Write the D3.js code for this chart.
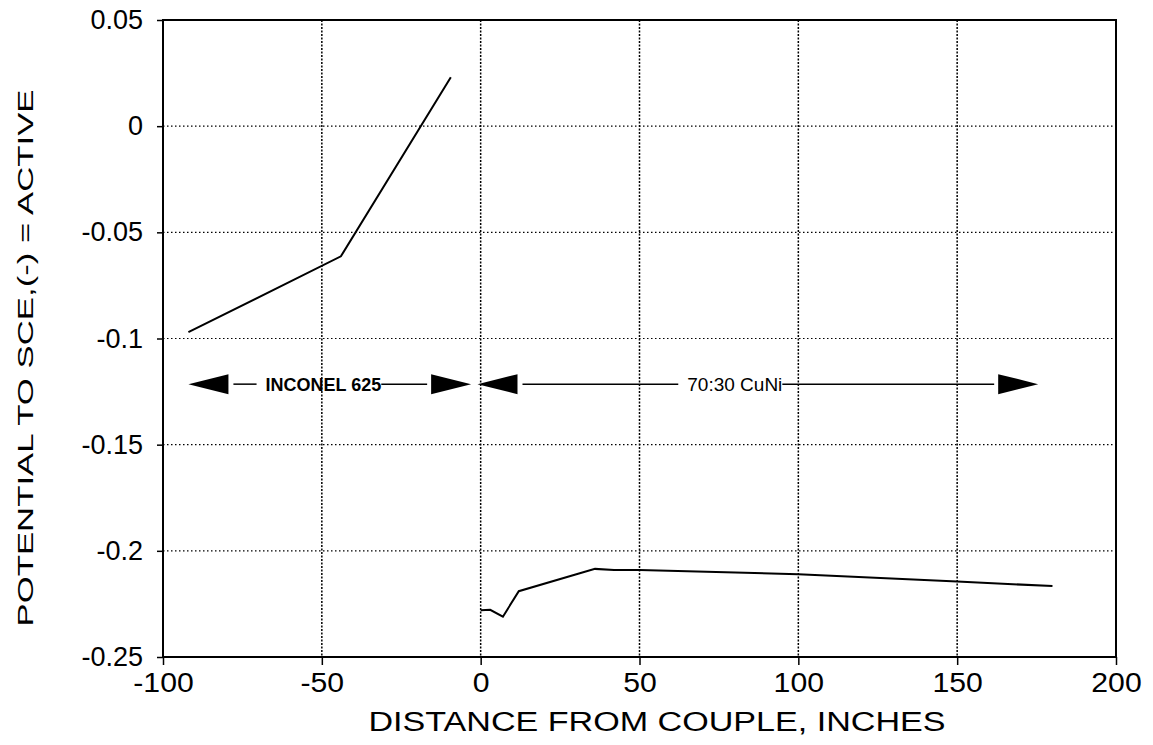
<!DOCTYPE html>
<html>
<head>
<meta charset="utf-8">
<script src="https://cdn.jsdelivr.net/npm/d3@7"></script>
<style>
  body { margin: 0; background: #fff; }
  svg { font-family: "Liberation Sans", Arial, sans-serif; }
</style>
</head>
<body>
<div id="chart"></div>
<script>
// Potential along the couple (distance in inches, volts vs SCE)
const inconelX = [-92, -44, -9.4];
const inconelY = [-0.097, -0.0613, 0.023];
const cuniX = [0, 3, 7, 12, 36, 42, 50, 100, 150, 180];
const cuniY = [-0.228, -0.2278, -0.231, -0.219, -0.2085, -0.209, -0.209, -0.211, -0.2145, -0.2166];

const xTicks = [-100, -50, 0, 50, 100, 150, 200];
const yTicks = [0.05, 0, -0.05, -0.1, -0.15, -0.2, -0.25];

// region arrows: [left tip, right tip, label, label centre]
const regions = [
  { from: -92, to: -3, label: "INCONEL 625", at: -49.5, bold: true },
  { from: -1, to: 175.5, label: "70:30 CuNi", at: 80, bold: false }
];
const arrowY = -0.1215;

const W = 1153, H = 745;
const margin = { top: 20, right: 37, bottom: 88, left: 163 };
const width = W - margin.left - margin.right;
const height = H - margin.top - margin.bottom;

const svg = d3.select("#chart")
  .append("svg")
  .attr("width", W)
  .attr("height", H);

const g = svg.append("g")
  .attr("transform", `translate(${margin.left},${margin.top})`);

const x = d3.scaleLinear().domain([-100, 200]).range([0, width]);
const y = d3.scaleLinear().domain([-0.25, 0.05]).range([height, 0]);

// dotted grid
g.selectAll(".vgrid")
  .data(xTicks.filter(d => d > -100 && d < 200))
  .join("line")
  .attr("x1", d => x(d)).attr("x2", d => x(d))
  .attr("y1", 0).attr("y2", height)
  .attr("stroke", "#000")
  .attr("stroke-width", 1.5)
  .attr("stroke-dasharray", "2,1.5");

g.selectAll(".hgrid")
  .data(yTicks.filter(d => d > -0.25 && d < 0.05))
  .join("line")
  .attr("x1", 0).attr("x2", width)
  .attr("y1", d => y(d)).attr("y2", d => y(d))
  .attr("stroke", "#000")
  .attr("stroke-width", 1.2)
  .attr("stroke-dasharray", "1.5,2.5");

// axes
const xAxis = g.append("g")
  .attr("transform", `translate(0,${height})`)
  .call(d3.axisBottom(x).tickValues(xTicks).tickSize(8).tickPadding(8).tickFormat(d => String(d)));
const yAxis = g.append("g")
  .call(d3.axisLeft(y).tickValues(yTicks).tickSize(6).tickPadding(14).tickFormat(d => String(d)));

[xAxis, yAxis].forEach(a => {
  a.select(".domain").remove();
  a.selectAll(".tick line").attr("stroke", "#000").attr("stroke-width", 1.5);
  a.selectAll(".tick text")
    .attr("fill", "#000")
    .attr("font-size", 27)
    .attr("font-family", "'Liberation Sans', Arial, sans-serif");
});
xAxis.selectAll(".tick text").attr("transform", "scale(1.12,1)").attr("x", 0);

// frame
g.append("rect")
  .attr("x", 0).attr("y", 0)
  .attr("width", width).attr("height", height)
  .attr("fill", "none")
  .attr("stroke", "#000")
  .attr("stroke-width", 2);

// data lines
const line = d3.line().x(d => x(d[0])).y(d => y(d[1]));
g.append("path")
  .datum(d3.zip(inconelX, inconelY))
  .attr("fill", "none").attr("stroke", "#000").attr("stroke-width", 2)
  .attr("d", line);
g.append("path")
  .datum(d3.zip(cuniX, cuniY))
  .attr("fill", "none").attr("stroke", "#000").attr("stroke-width", 2)
  .attr("d", line);

// region arrows with labels
const headLen = 40, headHalf = 10;
const ay = y(arrowY);
regions.forEach(r => {
  const lx = x(r.from), rx = x(r.to), cx = x(r.at);
  g.append("path")
    .attr("d", `M${lx},${ay}L${lx + headLen},${ay - headHalf}L${lx + headLen},${ay + headHalf}Z`)
    .attr("fill", "#000");
  g.append("path")
    .attr("d", `M${rx},${ay}L${rx - headLen},${ay - headHalf}L${rx - headLen},${ay + headHalf}Z`)
    .attr("fill", "#000");
  const t = g.append("text")
    .attr("x", cx).attr("y", ay + 7)
    .attr("text-anchor", "middle")
    .attr("font-size", r.bold ? 18 : 19)
    .attr("font-weight", r.bold ? "bold" : "normal")
    .attr("fill", "#000")
    .text(r.label);
  const bb = t.node().getBBox();
  g.append("line")
    .attr("x1", lx + headLen + 5).attr("x2", bb.x - 9)
    .attr("y1", ay).attr("y2", ay)
    .attr("stroke", "#000").attr("stroke-width", 1.5);
  g.append("line")
    .attr("x1", bb.x + bb.width).attr("x2", rx - headLen - 4)
    .attr("y1", ay).attr("y2", ay)
    .attr("stroke", "#000").attr("stroke-width", 1.5);
});

// axis titles
svg.append("text")
  .attr("x", 657).attr("y", 731)
  .attr("text-anchor", "middle")
  .attr("font-size", 27)
  .attr("textLength", 577)
  .attr("lengthAdjust", "spacingAndGlyphs")
  .attr("fill", "#000")
  .text("DISTANCE FROM COUPLE, INCHES");

svg.append("text")
  .attr("transform", "translate(33,358) rotate(-90)")
  .attr("text-anchor", "middle")
  .attr("font-size", 22)
  .attr("textLength", 537)
  .attr("lengthAdjust", "spacingAndGlyphs")
  .attr("fill", "#000")
  .text("POTENTIAL TO SCE,(-) = ACTIVE");
</script>
</body>
</html>
